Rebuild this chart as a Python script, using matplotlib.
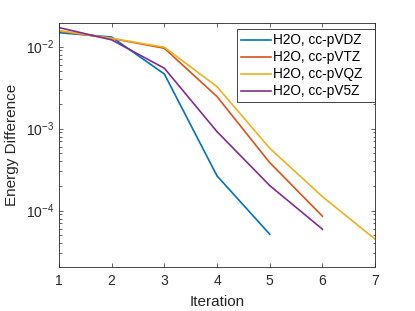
import matplotlib
matplotlib.use("Agg")
import matplotlib.pyplot as plt
from matplotlib.ticker import LogLocator, FixedLocator, NullFormatter

plt.rcParams['font.family'] = ['Liberation Sans', 'DejaVu Sans']
plt.rcParams['mathtext.fontset'] = 'custom'
plt.rcParams['mathtext.rm'] = 'Liberation Sans'
plt.rcParams['mathtext.it'] = 'Liberation Sans'

labels = ['H2O, cc-pVDZ', 'H2O, cc-pVTZ', 'H2O, cc-pVQZ', 'H2O, cc-pV5Z']
iter_dz = [1, 2, 3, 4, 5]
vals_dz = [0.0148, 0.0131, 0.00464, 2.65e-4, 5.15e-5]
iter_tz = [1, 2, 3, 4, 5, 6]
vals_tz = [0.0155, 0.0126, 0.00956, 2.46e-3, 3.85e-4, 8.55e-5]
iter_qz = [1, 2, 3, 4, 5, 6, 7]
vals_qz = [0.0157, 0.01265, 0.00984, 3.25e-3, 5.77e-4, 1.48e-4, 4.48e-5]
iter_5z = [1, 2, 3, 4, 5, 6]
vals_5z = [0.0171, 0.0121, 0.00546, 9.18e-4, 2.02e-4, 5.93e-5]
colors = ['#0072BD', '#D95319', '#EDB120', '#7E2F8E']

fig = plt.figure(figsize=(4.15, 3.11), dpi=100)
ax = fig.add_axes([0.142, 0.1425, 0.762, 0.7845])
for xs, ys, c, l in zip([iter_dz, iter_tz, iter_qz, iter_5z],
                        [vals_dz, vals_tz, vals_qz, vals_5z], colors, labels):
    ax.plot(xs, ys, color=c, lw=1.2, label=l)

ax.set_yscale('log')
ax.set_xlim(1, 7)
ax.set_ylim(2.07e-5, 0.0196)
ax.xaxis.set_major_locator(FixedLocator([1, 2, 3, 4, 5, 6, 7]))
ax.yaxis.set_major_locator(LogLocator(base=10, numticks=10))
ax.yaxis.set_minor_locator(LogLocator(base=10, subs=range(2, 10), numticks=10))
ax.yaxis.set_minor_formatter(NullFormatter())

ax.tick_params(which='both', direction='in', top=True, right=True,
               colors='#262626', labelcolor='#262626', labelsize=10, width=0.5)
ax.tick_params(which='major', length=3)
ax.tick_params(which='minor', length=1.8)
ax.tick_params(axis='x', pad=5)
for s in ax.spines.values():
    s.set_color('#262626')
    s.set_linewidth(0.6)

ax.set_xlabel('Iteration', fontsize=11, color='#262626', labelpad=5)
ax.set_ylabel('Energy Difference', fontsize=11, color='#262626', labelpad=5)

leg = ax.legend(loc='upper left', bbox_to_anchor=(0.562, 0.687, 0.438, 0.286),
                mode='expand', borderaxespad=0,
                fontsize=9.8, handlelength=2.2, handletextpad=0.15,
                labelspacing=0.22, borderpad=0.3, fancybox=False, framealpha=1)
leg.get_frame().set_edgecolor('#262626')
leg.get_frame().set_linewidth(0.6)

fig.savefig('out.png', dpi=100)
